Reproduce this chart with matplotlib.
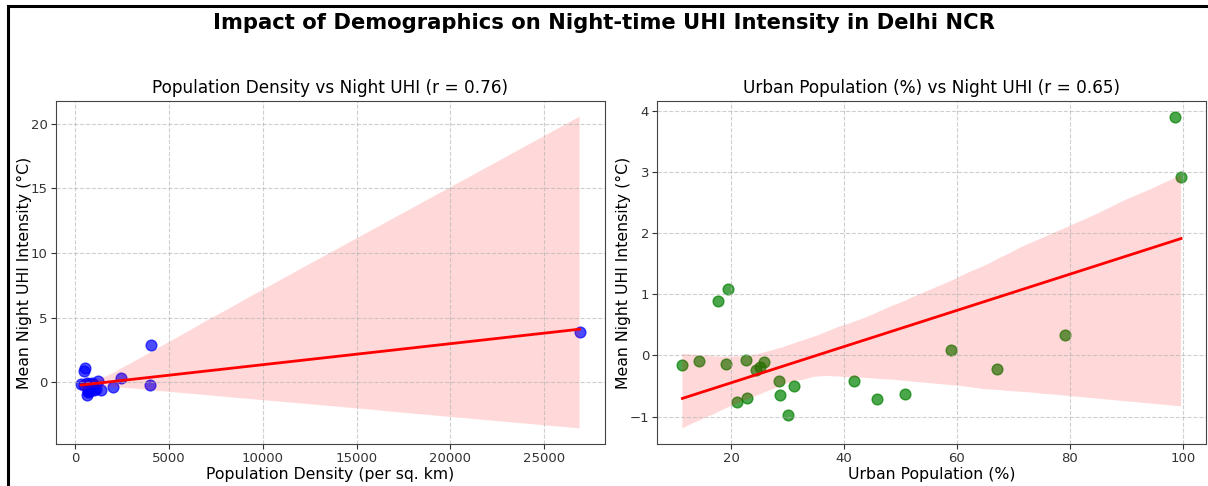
import numpy as np
import matplotlib
matplotlib.use("Agg")
import matplotlib.pyplot as plt
import seaborn as sns

# district-level values for Delhi NCR
urban_pct = [11.4, 14.3, 17.7, 19.4, 19.2, 21.0, 22.6, 22.8, 24.5, 25.1, 25.8, 28.5,
             28.6, 30.1, 31.2, 41.8, 45.9, 50.9, 58.9, 67.1, 79.2, 98.7, 99.7]
pop_density = [300, 600, 440, 500, 700, 650, 900, 800, 750, 450, 950, 2000,
               1000, 600, 1100, 850, 700, 1380, 1190, 3970, 2450, 26900, 4060]
night_uhi = [-0.16, -0.09, 0.89, 1.08, -0.14, -0.76, -0.07, -0.69, -0.23, -0.19, -0.11, -0.41,
             -0.64, -0.98, -0.50, -0.42, -0.71, -0.63, 0.09, -0.22, 0.34, 3.90, 2.91]

# Pearson r as reported for each panel
r_density = 0.76
r_urban = 0.65

fig, axes = plt.subplots(1, 2, figsize=(12.08, 4.86), dpi=100)
fig.subplots_adjust(left=0.0464, right=0.9983, top=0.792, bottom=0.0864, wspace=0.0965)

sns.regplot(x=pop_density, y=night_uhi, ax=axes[0], seed=0,
            scatter_kws={'s': 60, 'alpha': 0.7, 'color': 'blue'},
            line_kws={'color': 'red', 'linewidth': 2})
axes[0].set_title(f"Population Density vs Night UHI (r = {r_density:.2f})", fontsize=12.2)
axes[0].set_xlabel("Population Density (per sq. km)", fontsize=11.3, labelpad=1)
axes[0].set_ylabel("Mean Night UHI Intensity (°C)", fontsize=11.3, labelpad=-1)

sns.regplot(x=urban_pct, y=night_uhi, ax=axes[1], seed=0,
            scatter_kws={'s': 60, 'alpha': 0.7, 'color': 'green'},
            line_kws={'color': 'red', 'linewidth': 2})
axes[1].set_title(f"Urban Population (%) vs Night UHI (r = {r_urban:.2f})", fontsize=12.2)
axes[1].set_xlabel("Urban Population (%)", fontsize=11.3, labelpad=1)
axes[1].set_ylabel("Mean Night UHI Intensity (°C)", fontsize=11.3, labelpad=-1)

for ax in axes:
    ax.grid(True, linestyle='--', alpha=0.6)
    ax.tick_params(labelsize=9.5, colors='#333333', pad=2.5)
    for sp in ax.spines.values():
        sp.set_color('#444444')

fig.suptitle("Impact of Demographics on Night-time UHI Intensity in Delhi NCR",
             fontsize=15.2, fontweight='bold', y=0.953, va='center')

# frame around the whole figure
fig.patches.append(plt.Rectangle((0.007, -0.1), 1.1, 1.088, transform=fig.transFigure,
                                 fill=False, edgecolor='black', linewidth=2.2))

fig.savefig("out.png", dpi=100)
